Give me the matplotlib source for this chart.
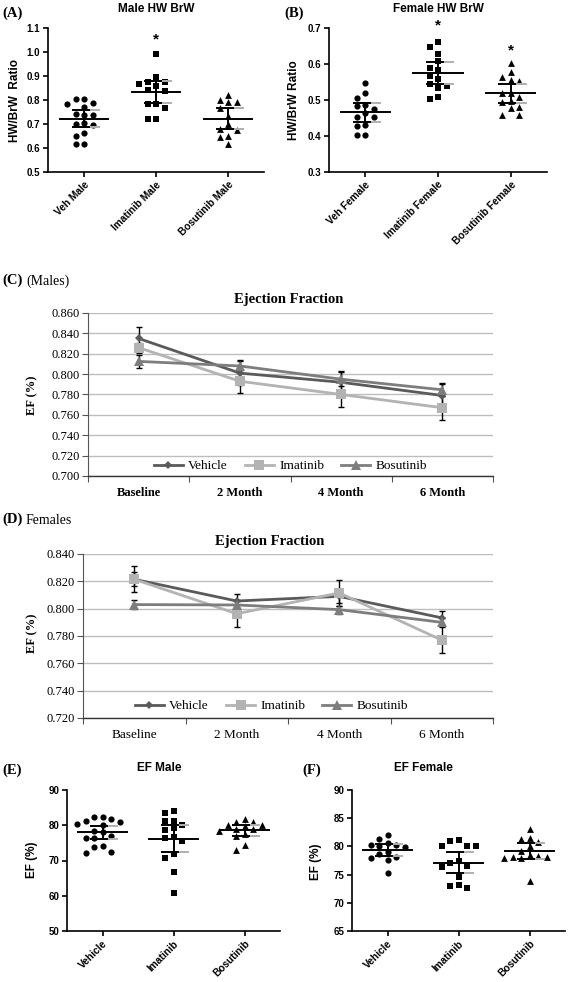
import numpy as np
import matplotlib
matplotlib.use('Agg')
import matplotlib.pyplot as plt

# ---------------- data ----------------
hw_male_groups = ['Veh Male', 'Imatinib Male', 'Bosutinib Male']
hw_male_veh = [0.806, 0.806, 0.788, 0.785, 0.771, 0.742, 0.739, 0.739, 0.704, 0.700, 0.697, 0.662, 0.651, 0.616, 0.616]
hw_male_ima = [0.990, 0.895, 0.877, 0.875, 0.868, 0.860, 0.840, 0.838, 0.785, 0.785, 0.765, 0.720, 0.720]
hw_male_bos = [0.821, 0.800, 0.793, 0.790, 0.768, 0.735, 0.700, 0.680, 0.676, 0.650, 0.645, 0.616]

hw_fem_groups = ['Veh Female', 'Imatinib Female', 'Bosutinib Female']
hw_fem_veh = [0.548, 0.520, 0.505, 0.486, 0.484, 0.476, 0.463, 0.452, 0.452, 0.430, 0.427, 0.404, 0.404]
hw_fem_ima = [0.661, 0.646, 0.628, 0.607, 0.588, 0.584, 0.567, 0.558, 0.545, 0.539, 0.533, 0.509, 0.502]
hw_fem_bos = [0.604, 0.579, 0.563, 0.556, 0.553, 0.520, 0.519, 0.509, 0.498, 0.495, 0.480, 0.477, 0.458, 0.458]

ef_groups = ['Vehicle', 'Imatinib', 'Bosutinib']
ef_male_veh = [82.3, 82.2, 81.7, 81.2, 81.0, 80.4, 80.2, 78.3, 78.0, 77.0, 76.5, 76.3, 74.0, 73.9, 72.3, 72.2]
ef_male_ima = [84.1, 83.6, 81.3, 81.3, 80.2, 79.1, 78.6, 76.7, 76.5, 75.5, 71.8, 70.6, 66.6, 60.9]
ef_male_bos = [81.9, 81.0, 80.8, 80.1, 80.0, 79.8, 79.0, 78.8, 78.3, 77.6, 77.0, 74.5, 72.9]
ef_fem_veh = [82.0, 81.4, 80.6, 80.3, 80.2, 80.0, 79.9, 79.0, 78.6, 78.2, 78.0, 77.6, 75.2]
ef_fem_ima = [81.1, 80.9, 80.0, 80.0, 80.0, 77.5, 77.0, 76.6, 76.3, 74.5, 73.2, 73.0, 72.7]
ef_fem_bos = [83.1, 81.5, 81.3, 80.8, 80.1, 79.2, 78.4, 78.3, 78.2, 78.2, 78.0, 77.9, 73.9]

timepoints = ['Baseline', '2 Month', '4 Month', '6 Month']
series_names = ['Vehicle', 'Imatinib', 'Bosutinib']
c_vehicle = [0.835, 0.801, 0.792, 0.779]
c_imatinib = [0.826, 0.793, 0.780, 0.767]
c_bosutinib = [0.8125, 0.808, 0.795, 0.7846]
c_vehicle_err = [0.0115, 0.0115, 0.0115, 0.0115]
c_imatinib_err = [0.005, 0.012, 0.012, 0.012]
c_bosutinib_err = [0.0065, 0.006, 0.007, 0.0065]

d_vehicle = [0.8215, 0.8056, 0.809, 0.7933]
d_imatinib = [0.8215, 0.7963, 0.8115, 0.777]
d_bosutinib = [0.803, 0.8027, 0.7993, 0.790]
d_vehicle_err = [0.005, 0.005, 0.005, 0.005]
d_imatinib_err = [0.0095, 0.0097, 0.0095, 0.0098]
d_bosutinib_err = [0.0033, 0.003, 0.003, 0.003]

T95 = {10: 2.228, 11: 2.201, 12: 2.179, 13: 2.160, 14: 2.145, 15: 2.131, 16: 2.120, 17: 2.110}

# ---------------- helpers ----------------
W, H = 568, 982
fig = plt.figure(figsize=(W / 100, H / 100), dpi=100)
SANS = 'Liberation Sans'
SERIF = 'Liberation Serif'


def add_ax(l, t, r, b):
    return fig.add_axes([l / W, 1 - b / H, (r - l) / W, (b - t) / H])


def ftext(x, y, s, **kw):
    fig.text(x / W, 1 - y / H, s, **kw)


def swarm_offsets(vals, px_per_y, step_px=8.5, gap_px=7.0):
    placed = {}
    offs = []
    order = [0]
    for j in range(1, 10):
        order += [-j, j]
    for v in vals:
        ypx = v * px_per_y
        for s in order:
            if all(abs(ypx - y) >= gap_px for y in placed.get(s, [])):
                placed.setdefault(s, []).append(ypx)
                offs.append(s * step_px)
                break
    return offs


def mean_ci(vals):
    a = np.asarray(vals, float)
    n = len(a)
    return a.mean(), T95[n - 1] * a.std(ddof=1) / np.sqrt(n)


def scatter_panel(rect, groups, datasets, ylim, yticks, fmt):
    l, t, r, b = rect
    ax = add_ax(l, t, r, b)
    ax.set_xlim(-0.5, 2.5)
    ax.set_ylim(*ylim)
    pxx = (r - l) / 3.0
    pxy = (b - t) / (ylim[1] - ylim[0])
    markers = ['o', 's', '^']
    sizes = [20, 17, 24]
    for i, vals in enumerate(datasets):
        offs = np.array(swarm_offsets(vals, pxy)) / pxx
        ax.scatter(i + offs, vals, marker=markers[i], s=sizes[i], c='black',
                   linewidths=0, zorder=3)
        m, ci = mean_ci(vals)
        ax.plot([i - 0.34, i + 0.34], [m, m], color='black', lw=1.4, zorder=4)
        ax.plot([i, i], [m - ci, m + ci], color='black', lw=1.4, zorder=4)
        for yv in (m - ci, m + ci):
            ax.plot([i - 0.17, i + 0.08], [yv, yv], color='black', lw=1.4, zorder=4,
                    solid_capstyle='butt')
            ax.plot([i + 0.08, i + 0.22], [yv, yv], color='#b0b0b0', lw=1.4, zorder=4,
                    solid_capstyle='butt')
    for sp in ('top', 'right'):
        ax.spines[sp].set_visible(False)
    for sp in ('left', 'bottom'):
        ax.spines[sp].set_linewidth(1.2)
    ax.set_yticks(yticks)
    ax.set_yticklabels([fmt.format(v) for v in yticks], fontfamily=SANS,
                       fontweight='bold', fontsize=7)
    ax.set_xticks(range(3))
    ax.set_xticklabels(groups, rotation=45, ha='right', va='top',
                       rotation_mode='anchor', fontfamily=SANS, fontweight='bold',
                       fontsize=7.3)
    ax.tick_params(axis='both', width=1.2, length=3.5, pad=2)
    return ax


def star(ax, i, vals, dy_pts):
    ax.annotate('*', xy=(i, max(vals)), xytext=(0, dy_pts), textcoords='offset points',
                ha='center', va='center', fontsize=11, fontweight='bold',
                fontfamily=SANS)


def line_panel(rect, series, errs, ylim, yticks, bold_x, leg_x, leg_y):
    l, t, r, b = rect
    ax = add_ax(l, t, r, b)
    ax.set_xlim(-0.5, 3.5)
    ax.set_ylim(*ylim)
    x = np.arange(len(timepoints))
    styles = [('#5a5a5a', 'D', 4.2), ('#b3b3b3', 's', 7.0), ('#7d7d7d', '^', 7.0)]
    for (name, vals), err, (col, mk, ms) in zip(zip(series_names, series), errs, styles):
        ax.errorbar(x, vals, yerr=err, fmt='none', ecolor='black', elinewidth=1.0,
                    capsize=2.5, capthick=1.0, zorder=2)
        ax.plot(x, vals, color=col, marker=mk, ms=ms, lw=2.0, zorder=3, label=name,
                markeredgewidth=0)
    ax.set_yticks(yticks)
    ax.set_yticklabels(['{:.3f}'.format(v) for v in yticks], fontfamily=SERIF, fontsize=9)
    ax.yaxis.grid(True, color='#bdbdbd', lw=1.0)
    ax.set_axisbelow(True)
    ax.set_xticks(x)
    ax.set_xticklabels(timepoints, fontfamily=SERIF,
                       fontsize=9 if bold_x else 9.5,
                       fontweight='bold' if bold_x else 'normal')
    ax.set_xticks(np.arange(-0.5, 4.0, 1.0), minor=True)
    ax.tick_params(axis='x', which='major', length=0, pad=8)
    ax.tick_params(axis='x', which='minor', length=4, width=0.8, color='#555555')
    ax.tick_params(axis='y', length=4, width=0.8, color='#555555', pad=2)
    for sp in ('top', 'right'):
        ax.spines[sp].set_visible(False)
    ax.spines['left'].set_color('#555555')
    ax.spines['bottom'].set_color('#333333')
    ax.spines['left'].set_linewidth(0.8)
    ax.spines['bottom'].set_linewidth(1.0)
    ax.legend(loc='center', bbox_to_anchor=(leg_x, leg_y), ncol=3, frameon=False,
              prop={'family': SERIF, 'size': 9.5}, handlelength=2.2,
              columnspacing=1.3, handletextpad=0.4, borderpad=0)
    return ax


# ---------------- panel A ----------------
axA = scatter_panel((48, 28, 264, 172), hw_male_groups, [hw_male_veh, hw_male_ima, hw_male_bos],
                    (0.5, 1.1), [0.5, 0.6, 0.7, 0.8, 0.9, 1.0, 1.1], '{:.1f}')
star(axA, 1, hw_male_ima, 11)
ftext(2, 13, '(A)', fontfamily=SERIF, fontweight='bold', fontsize=10.5, ha='left', va='center')
ftext(156, 9, 'Male HW BrW', fontfamily=SANS, fontweight='bold', fontsize=8.5, ha='center', va='center')
ftext(15, 100, 'HW/BrW  Ratio', fontfamily=SANS, fontweight='bold', fontsize=8.5,
      rotation=90, ha='center', va='center')

# ---------------- panel B ----------------
axB = scatter_panel((329, 28, 547, 172), hw_fem_groups, [hw_fem_veh, hw_fem_ima, hw_fem_bos],
                    (0.3, 0.7), [0.3, 0.4, 0.5, 0.6, 0.7], '{:.1f}')
star(axB, 1, hw_fem_ima, 12)
star(axB, 2, hw_fem_bos, 9)
ftext(284, 13, '(B)', fontfamily=SERIF, fontweight='bold', fontsize=10.5, ha='left', va='center')
ftext(438, 9, 'Female HW BrW', fontfamily=SANS, fontweight='bold', fontsize=8.5, ha='center', va='center')
ftext(294, 100, 'HW/BrW Ratio', fontfamily=SANS, fontweight='bold', fontsize=8.5,
      rotation=90, ha='center', va='center')

# ---------------- panel C ----------------
axC = line_panel((88, 313, 493, 476), [c_vehicle, c_imatinib, c_bosutinib],
                 [c_vehicle_err, c_imatinib_err, c_bosutinib_err], (0.70, 0.86),
                 [0.70, 0.72, 0.74, 0.76, 0.78, 0.80, 0.82, 0.84, 0.86], True, 0.5, 0.06)
ftext(2, 280, '(C)', fontfamily=SERIF, fontweight='bold', fontsize=10.5, ha='left', va='center')
ftext(26, 281, '(Males)', fontfamily=SERIF, fontsize=10, ha='left', va='center')
ftext(289, 299, 'Ejection Fraction', fontfamily=SERIF, fontweight='bold', fontsize=10.5, ha='center', va='center')
ftext(32, 395, 'EF (%)', fontfamily=SERIF, fontweight='bold', fontsize=9, rotation=90, ha='center', va='center')

# ---------------- panel D ----------------
axD = line_panel((83, 554, 493, 718), [d_vehicle, d_imatinib, d_bosutinib],
                 [d_vehicle_err, d_imatinib_err, d_bosutinib_err], (0.72, 0.84),
                 [0.72, 0.74, 0.76, 0.78, 0.80, 0.82, 0.84], False, 0.46, 0.073)
ftext(2, 519, '(D)', fontfamily=SERIF, fontweight='bold', fontsize=10.5, ha='left', va='center')
ftext(26, 520, 'Females', fontfamily=SERIF, fontsize=10, ha='left', va='center')
ftext(270, 541, 'Ejection Fraction', fontfamily=SERIF, fontweight='bold', fontsize=10.5, ha='center', va='center')
ftext(32, 633, 'EF (%)', fontfamily=SERIF, fontweight='bold', fontsize=9, rotation=90, ha='center', va='center')

# ---------------- panel E ----------------
axE = scatter_panel((67, 790, 280, 931), ef_groups, [ef_male_veh, ef_male_ima, ef_male_bos],
                    (50, 90), [50, 60, 70, 80, 90], '{:d}')
ftext(2, 770, '(E)', fontfamily=SERIF, fontweight='bold', fontsize=10.5, ha='left', va='center')
ftext(159, 768, 'EF Male', fontfamily=SANS, fontweight='bold', fontsize=8.5, ha='center', va='center')
ftext(32, 860, 'EF (%)', fontfamily=SANS, fontweight='bold', fontsize=8.5, rotation=90, ha='center', va='center')

# ---------------- panel F ----------------
axF = scatter_panel((352, 790, 565, 931), ef_groups, [ef_fem_veh, ef_fem_ima, ef_fem_bos],
                    (65, 90), [65, 70, 75, 80, 85, 90], '{:d}')
ftext(302, 770, '(F)', fontfamily=SERIF, fontweight='bold', fontsize=10.5, ha='left', va='center')
ftext(423, 768, 'EF Female', fontfamily=SANS, fontweight='bold', fontsize=8.5, ha='center', va='center')
ftext(316, 862, 'EF (%)', fontfamily=SANS, fontweight='bold', fontsize=8.5, rotation=90, ha='center', va='center')

fig.savefig('out.png', dpi=100)
